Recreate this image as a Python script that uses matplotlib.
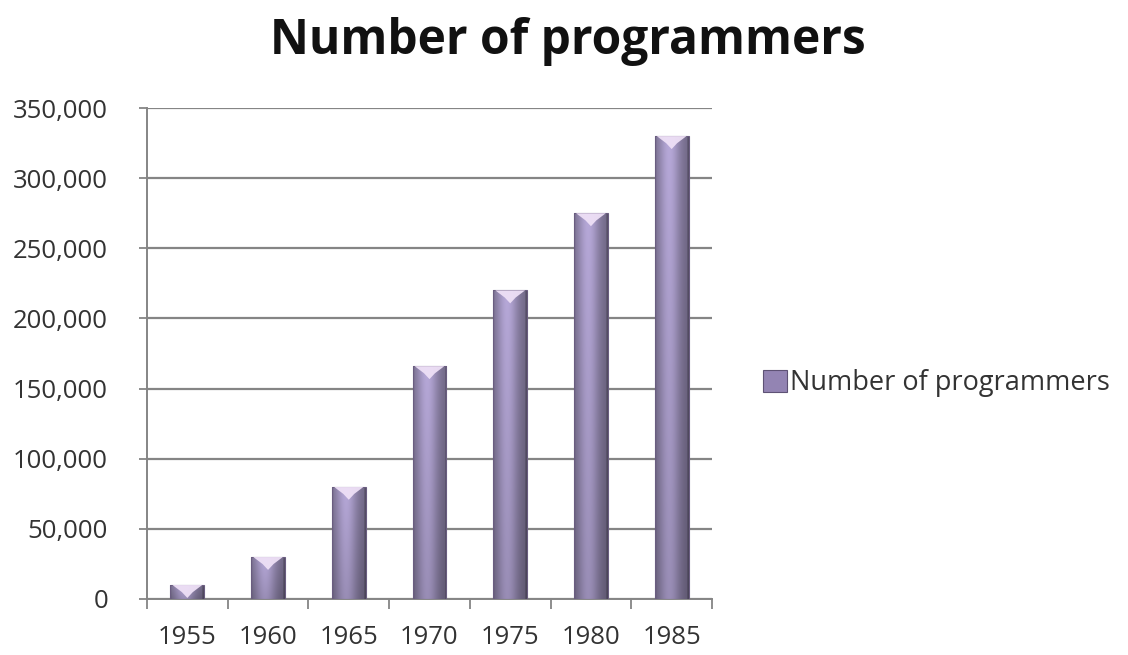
import numpy as np
import matplotlib
matplotlib.use("Agg")
import matplotlib.pyplot as plt
from matplotlib.patches import Polygon, Rectangle, Patch
from matplotlib.ticker import FuncFormatter, MultipleLocator

# Data
years = ["1955", "1960", "1965", "1970", "1975", "1980", "1985"]
programmers = [10000, 30000, 80000, 166000, 220000, 275000, 330000]

series_name = "Number of programmers"
title = "Number of programmers"

plt.rcParams["font.family"] = ["Open Sans", "DejaVu Sans"]

GRID_COLOR = "#858585"
TEXT_COLOR = "#333333"
BAR_WIDTH = 0.42
Y_MAX = 350000


def bar_image(n_cols=64, n_rows=128):
    """Shaded cylinder-like texture for one bar (rows bottom -> top)."""
    u = np.linspace(0, 1, n_cols)
    # light band left of centre, darker edges
    horiz = 0.62 + 0.38 * np.exp(-((u - 0.42) / 0.33) ** 2)
    horiz[:2] *= 0.8
    horiz[-3:] *= 0.75
    t = np.linspace(0, 1, n_rows)[:, None]
    vert = 0.84 + 0.16 * t
    base = np.array([0xb6, 0xa8, 0xd8]) / 255.0
    img = base[None, None, :] * (horiz[None, :, None] * vert[:, :, None])
    return np.clip(img, 0, 1)


fig = plt.figure(figsize=(11.28, 6.55), dpi=100)
ax = fig.add_axes([0.1303, 0.0855, 0.5009, 0.7496])

x = np.arange(len(years))
tex = bar_image()

# height of the light top cap, in data units (about 13 px)
ax_h_px = 0.7496 * 655
cap_h = Y_MAX * 13 / ax_h_px

for xi, val in zip(x, programmers):
    left = xi - BAR_WIDTH / 2
    right = xi + BAR_WIDTH / 2
    im = ax.imshow(tex, extent=(left, right, 0, val), origin="lower",
                   aspect="auto", interpolation="bilinear", zorder=3)
    outline = Rectangle((left, 0), BAR_WIDTH, val, fill=False,
                        edgecolor="#6a5d80", linewidth=0.8, zorder=4)
    ax.add_patch(outline)
    im.set_clip_path(Rectangle((left, 0), BAR_WIDTH, val, transform=ax.transData))
    # light chevron on the bar top
    m = BAR_WIDTH * 0.06
    cap = Polygon([(left + m, val), (right - m, val),
                   (xi + BAR_WIDTH * 0.16, val - cap_h * 0.55),
                   (xi, val - cap_h),
                   (xi - BAR_WIDTH * 0.16, val - cap_h * 0.55)],
                  closed=True, facecolor="#eee0f6", edgecolor="none",
                  alpha=0.95, zorder=5)
    ax.add_patch(cap)
    cap.set_clip_path(Rectangle((left, 0), BAR_WIDTH, val, transform=ax.transData))

ax.set_xlim(-0.5, len(years) - 0.5)
ax.set_ylim(0, Y_MAX)

# Axes styling
ax.yaxis.set_major_locator(MultipleLocator(50000))
ax.yaxis.set_major_formatter(FuncFormatter(lambda v, p: f"{int(v):,}"))
ax.grid(axis="y", color=GRID_COLOR, linewidth=1.6, zorder=1)
ax.set_axisbelow(True)

ax.set_xticks(x)
ax.set_xticklabels(years)
ax.set_xticks(np.arange(-0.5, len(years), 1.0), minor=True)
ax.tick_params(axis="x", which="major", length=0, pad=19,
               labelsize=18.5, labelcolor=TEXT_COLOR)
ax.tick_params(axis="x", which="minor", length=7, width=1.3,
               color=GRID_COLOR, direction="out")
ax.tick_params(axis="y", length=6, width=1.3, color=GRID_COLOR,
               labelsize=18.5, labelcolor=TEXT_COLOR, pad=22)

for side in ("top", "right"):
    ax.spines[side].set_visible(False)
for side in ("left", "bottom"):
    ax.spines[side].set_color(GRID_COLOR)
    ax.spines[side].set_linewidth(1.4)

fig.text(0.5035, 1 - 54 / 655, title, ha="center", va="baseline",
         fontsize=34.5, fontweight="bold", color="#111111")

handle = Patch(facecolor="#9384b3", edgecolor="#5e5275", linewidth=0.8)
fig.legend([handle], [series_name], loc="center left",
           bbox_to_anchor=(0.664, 0.415), frameon=False, borderpad=0,
           fontsize=19.5, handlelength=0.9, handleheight=0.9,
           handletextpad=0.12, labelcolor=TEXT_COLOR)

fig.savefig("out.png", dpi=100)
